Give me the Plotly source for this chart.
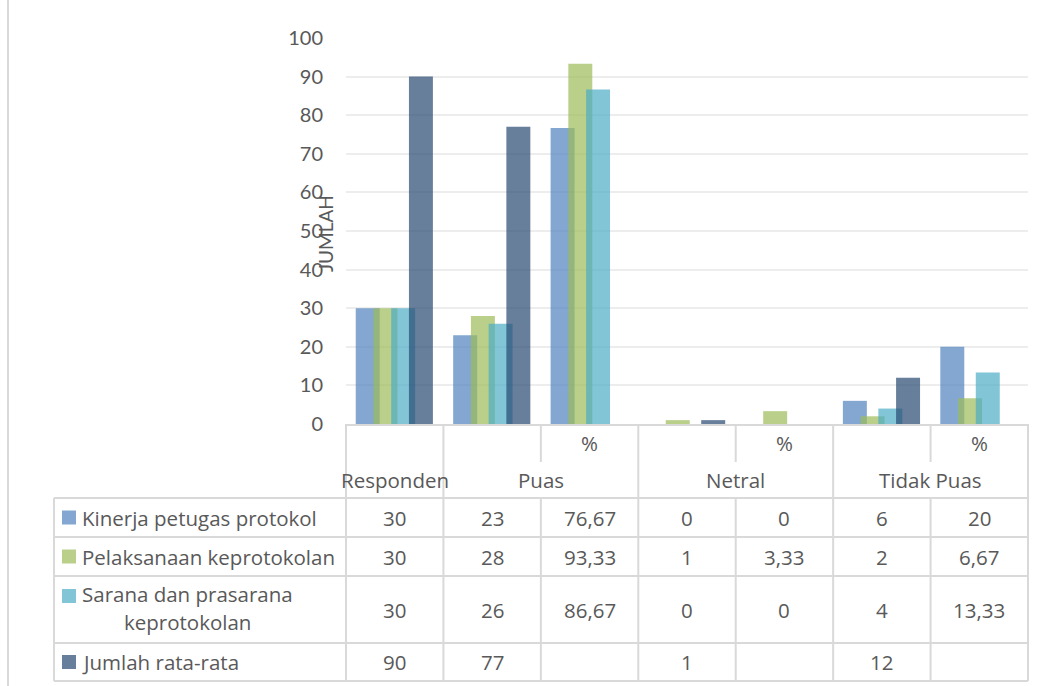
import plotly.graph_objects as go

# ---- data -------------------------------------------------------------
categories = ["Responden", "Puas", "Puas %", "Netral", "Netral %", "Tidak Puas", "Tidak Puas %"]
column_marks = ["", "", "%", "", "%", "", "%"]
group_labels = ["Responden", "Puas", "Netral", "Tidak Puas"]
group_spans = [(0, 0), (1, 2), (3, 4), (5, 6)]

series_names = [
    "Kinerja petugas protokol",
    "Pelaksanaan keprotokolan",
    "Sarana dan prasarana keprotokolan",
    "Jumlah rata-rata",
]
kinerja = [30, 23, 76.67, 0, 0, 6, 20]
pelaksanaan = [30, 28, 93.33, 1, 3.33, 2, 6.67]
sarana = [30, 26, 86.67, 0, 0, 4, 13.33]
jumlah = [90, 77, None, 1, None, 12, None]
y_ticks = [0, 10, 20, 30, 40, 50, 60, 70, 80, 90, 100]

series_values = [kinerja, pelaksanaan, sarana, jumlah]
colors = ["#4F81BD", "#9BBB59", "#4BACC6", "#284872"]
bar_opacity = 0.7

# ---- geometry ---------------------------------------------------------
W, H = 1046, 686
L, R, T, B = 346, 18, 38, 262
PW, PH = W - L - R, H - T - B
X_RANGE = [-0.5, len(categories) - 0.5]
BAR_W = 0.246
BAR_STEP = 0.182
BAR_START = -0.40

TEXT = "#595959"
LINE = "#D9D9D9"
TICK_FONT = "Lato"
TABLE_FONT = "Open Sans"


def xp(px):
    return (px - L) / PW


def yp(py):
    return (H - B - py) / PH


def cat_x(v):
    """category coordinate -> paper x"""
    return (v - X_RANGE[0]) / (X_RANGE[1] - X_RANGE[0])


def fmt(v):
    if v is None:
        return ""
    if float(v).is_integer():
        return str(int(v))
    return f"{v:.2f}".replace(".", ",")


fig = go.Figure()
xs = list(range(len(categories)))
for k, (name, vals, col) in enumerate(zip(series_names, series_values, colors)):
    fig.add_trace(go.Bar(
        x=xs, y=vals, name=name,
        width=BAR_W, offset=BAR_START + k * BAR_STEP,
        marker=dict(color=col, opacity=bar_opacity, line=dict(width=0)),
        showlegend=False,
    ))

shapes = []
annotations = []


def hline(y, x0, x1):
    shapes.append(dict(type="line", xref="paper", yref="paper",
                       x0=x0, x1=x1, y0=yp(y), y1=yp(y),
                       line=dict(color=LINE, width=2)))


def vline(x, y0, y1):
    shapes.append(dict(type="line", xref="paper", yref="paper",
                       x0=x, x1=x, y0=yp(y0), y1=yp(y1),
                       line=dict(color=LINE, width=2)))


def label(x, y, text, font, xanchor="center", **kw):
    annotations.append(dict(x=x, y=y, text=text, showarrow=False,
                            xref="paper", yref="paper", xanchor=xanchor,
                            yanchor="middle", font=font, **kw))


# data table grid
HEAD_SPLIT, TABLE_TOP = 462, 498
row_edges = [498, 537, 576, 643, 681]
TABLE_LEFT = 54
for y in row_edges:
    hline(y, xp(TABLE_LEFT), cat_x(X_RANGE[1]))
vline(xp(TABLE_LEFT), TABLE_TOP, row_edges[-1])
group_edges = {s for s, _ in group_spans} | {len(categories)}
for i in range(len(categories) + 1):
    x = cat_x(i - 0.5)
    if i in group_edges:
        vline(x, 424, row_edges[-1])
    else:
        vline(x, 424, HEAD_SPLIT)
        vline(x, TABLE_TOP, row_edges[-1])

# outer frame edge
shapes.append(dict(type="line", xref="paper", yref="paper",
                   x0=xp(8), x1=xp(8), y0=yp(0), y1=yp(H),
                   line=dict(color=LINE, width=2)))

tf = dict(family=TABLE_FONT, size=20.5, color=TEXT)

# header texts
for i, mark in enumerate(column_marks):
    if mark:
        label(cat_x(i), yp(443), mark, tf)
for lab, (a, b) in zip(group_labels, group_spans):
    label(cat_x((a + b) / 2), yp(480), lab, tf)

# table rows: legend key, name, values
row_centers = [(row_edges[r] + row_edges[r + 1]) / 2 for r in range(4)]
for r, (name, vals, col) in enumerate(zip(series_names, series_values, colors)):
    yc = row_centers[r]
    key_y = yc if r != 2 else 596
    shapes.append(dict(type="rect", xref="paper", yref="paper",
                       x0=xp(62), x1=xp(76), y0=yp(key_y - 7), y1=yp(key_y + 7),
                       fillcolor=col, opacity=bar_opacity, line=dict(width=0)))
    if r == 2:
        label(xp(80), yp(594), "Sarana dan prasarana", tf, xanchor="left")
        label(xp(187), yp(622), "keprotokolan", tf)
    else:
        label(xp(80), yp(yc), name, tf, xanchor="left")
    for i, v in enumerate(vals):
        s = fmt(v)
        if s:
            label(cat_x(i), yp(yc), s, tf)

# y-axis title
label(xp(325), yp(234), "JUMLAH", dict(family=TICK_FONT, size=19, color=TEXT),
      textangle=-90)

fig.update_layout(
    width=W, height=H,
    margin=dict(l=L, r=R, t=T, b=B, pad=0),
    paper_bgcolor="white", plot_bgcolor="white",
    barmode="overlay",
    shapes=shapes, annotations=annotations,
    xaxis=dict(range=X_RANGE, showticklabels=False, showgrid=False, zeroline=False,
               showline=True, linecolor=LINE, linewidth=2, ticks=""),
    yaxis=dict(range=[0, 100], tickvals=y_ticks, showgrid=True, gridcolor="#EDEDED",
               gridwidth=2, zeroline=False, showline=False, ticks="",
               tickfont=dict(family=TICK_FONT, size=20, color=TEXT), ticklabelstandoff=22),
)

fig.write_html("out.html")
